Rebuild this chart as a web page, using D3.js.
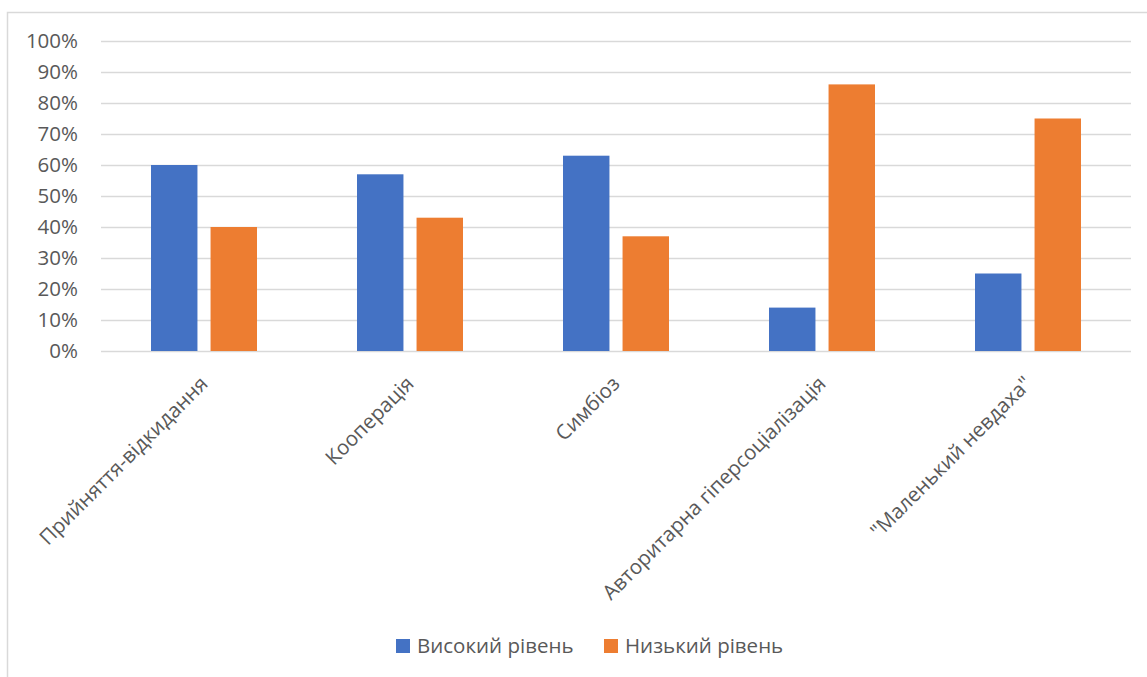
<!DOCTYPE html>
<html>
<head>
<meta charset="utf-8">
<script src="https://cdn.jsdelivr.net/npm/d3@7"></script>
<style>
  body { margin: 0; background: #fff; }
  text { font-family: "Open Sans", sans-serif; fill: #595959; }
</style>
</head>
<body>
<div id="chart"></div>
<script>
// data
var categories = ["Прийняття-відкидання", "Кооперація", "Симбіоз", "Авторитарна гіперсоціалізація", "\"Маленький невдаха\""];
var seriesNames = ["Високий рівень", "Низький рівень"];
var highLevel = [60, 57, 63, 14, 25];
var lowLevel = [40, 43, 37, 86, 75];
var yTicks = [0, 10, 20, 30, 40, 50, 60, 70, 80, 90, 100];
var colors = ["#4472C4", "#ED7D31"];

var W = 1147, H = 677;
var fontSize = 20.5;
var svg = d3.select("#chart").append("svg").attr("width", W).attr("height", H);

// chart frame
svg.append("rect")
  .attr("x", 7.5).attr("y", 12.5)
  .attr("width", 1160).attr("height", 700)
  .attr("fill", "none").attr("stroke", "#d9d9d9").attr("stroke-width", 1.5);

var plot = {left: 101, right: 1131, top: 41, bottom: 351};

var x = d3.scaleBand().domain(categories).range([plot.left, plot.right]).padding(0);
var xInner = d3.scaleBand().domain(seriesNames).range([0, 106]).paddingInner(0.22);
var y = d3.scaleLinear().domain([0, 100]).range([plot.bottom, plot.top]);

// gridlines
svg.append("g").selectAll("line")
  .data(yTicks)
  .enter().append("line")
    .attr("x1", plot.left).attr("x2", plot.right)
    .attr("y1", function(d) { return y(d) + 0.5; })
    .attr("y2", function(d) { return y(d) + 0.5; })
    .attr("stroke", "#d9d9d9").attr("stroke-width", 1.3);

// y axis labels
var yAxis = d3.axisLeft(y).tickValues(yTicks).tickFormat(function(d) { return d + "%"; }).tickSize(0).tickPadding(0);
var yg = svg.append("g").attr("transform", "translate(78,0)").call(yAxis);
yg.select(".domain").remove();
yg.selectAll("text").attr("font-size", fontSize).attr("fill", "#595959").style("font-family", "'Open Sans', sans-serif");

// bars
var rows = categories.map(function(c, i) { return {cat: c, vals: [highLevel[i], lowLevel[i]]}; });
var groups = svg.append("g").selectAll("g")
  .data(rows)
  .enter().append("g")
    .attr("transform", function(d) { return "translate(" + (x(d.cat) + x.bandwidth() / 2 - 53) + ",0)"; });

groups.selectAll("rect")
  .data(function(d) { return d.vals.map(function(v, j) { return {name: seriesNames[j], v: v, j: j}; }); })
  .enter().append("rect")
    .attr("x", function(d) { return xInner(d.name); })
    .attr("width", xInner.bandwidth())
    .attr("y", function(d) { return y(d.v); })
    .attr("height", function(d) { return y(0) - y(d.v); })
    .attr("fill", function(d) { return colors[d.j]; });

// category labels, rotated
svg.append("g").selectAll("text")
  .data(categories)
  .enter().append("text")
    .attr("transform", function(d) { return "translate(" + (x(d) + x.bandwidth() / 2) + ",380) rotate(-45)"; })
    .attr("text-anchor", "end")
    .attr("font-size", fontSize)
    .attr("dy", "0.35em")
    .text(function(d) { return d; });

// legend
var legendX = [396, 604];
var legend = svg.append("g").selectAll("g")
  .data(seriesNames)
  .enter().append("g")
    .attr("transform", function(d, i) { return "translate(" + legendX[i] + ",639)"; });
legend.append("rect").attr("width", 14).attr("height", 14).attr("fill", function(d, i) { return colors[i]; });
legend.append("text").attr("x", 21).attr("y", 7).attr("dy", "0.35em").attr("font-size", fontSize).text(function(d) { return d; });
</script>
</body>
</html>
